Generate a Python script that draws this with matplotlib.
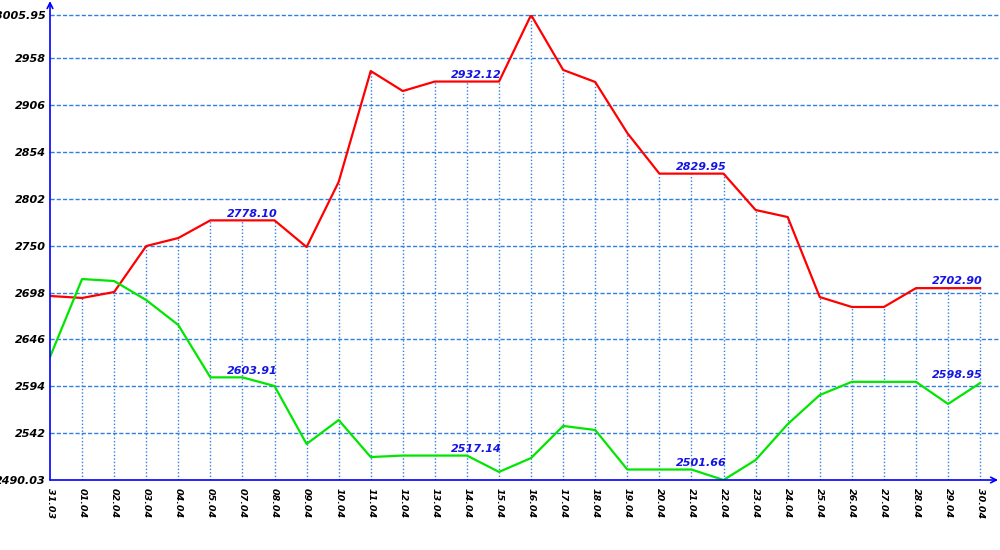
import matplotlib
matplotlib.use("Agg")
import matplotlib.pyplot as plt
import numpy as np

dates = ["31.03", "01.04", "02.04", "03.04", "04.04", "05.04", "07.04", "08.04",
         "09.04", "10.04", "11.04", "12.04", "13.04", "14.04", "15.04", "16.04",
         "17.04", "18.04", "19.04", "20.04", "21.04", "22.04", "23.04", "24.04",
         "25.04", "26.04", "27.04", "28.04", "29.04", "30.04"]

high = [2694.2, 2692.0, 2698.6, 2749.6, 2758.5, 2778.10, 2778.10, 2778.10,
        2748.5, 2820.7, 2943.8, 2921.6, 2932.12, 2932.12, 2932.12, 3005.95,
        2945.0, 2931.6, 2875.0, 2829.95, 2829.95, 2829.95, 2789.6, 2781.8,
        2693.0, 2682.0, 2682.0, 2702.90, 2702.90, 2702.90]

low = [2626.5, 2713.0, 2710.8, 2689.7, 2662.0, 2603.91, 2603.91, 2594.3,
       2530.0, 2556.6, 2515.5, 2517.14, 2517.14, 2517.14, 2499.0, 2514.4,
       2550.0, 2545.5, 2501.66, 2501.66, 2501.66, 2490.03, 2512.2, 2552.0,
       2584.3, 2598.95, 2598.95, 2598.95, 2574.4, 2597.6]

y_ticks = [2490.03, 2542, 2594, 2646, 2698, 2750, 2802, 2854, 2906, 2958, 3005.95]
y_labels = ["2490.03", "2542", "2594", "2646", "2698", "2750", "2802", "2854",
            "2906", "2958", "3005.95"]

# plateau labels: (index, value)
high_notes = [(6, 2778.10), (13, 2932.12), (20, 2829.95), (28, 2702.90)]
low_notes = [(6, 2603.91), (13, 2517.14), (20, 2501.66), (28, 2598.95)]

grid_col = "#2f7fe0"
axis_col = "#0000ff"
txt_col = "#1414e6"

fig = plt.figure(figsize=(10, 5.5), dpi=100)
ax = fig.add_axes([0.05, 70 / 550, 0.95, 465 / 550])

x = np.arange(len(dates))
ymin, ymax = y_ticks[0], y_ticks[-1]

# horizontal dashed grid
ax.hlines(y_ticks[1:], 0, 1, transform=ax.get_yaxis_transform(), colors=grid_col,
          linewidth=1, linestyles=(0, (3, 1.5)), zorder=1, clip_on=False)
# vertical dotted lines up to the high line
ax.vlines(x[1:], ymin, np.array(high)[1:], colors=grid_col, linewidth=1,
          linestyles=(0, (1, 1.5)), zorder=1)

ax.plot(x, high, color="#ff0000", linewidth=1.6, zorder=3)
ax.plot(x, low, color="#00e600", linewidth=1.6, zorder=3)

for i, v in high_notes + low_notes:
    ax.text(i + 0.3, v + 2, f"{v:.2f}", color=txt_col, fontsize=8,
            fontweight="bold", fontstyle="italic", ha="center", va="bottom", zorder=4)

ax.set_xlim(0, 29.62)
ax.set_ylim(ymin, ymax)
ax.set_xticks(x)
ax.set_xticklabels(dates, rotation=270, fontsize=6.8, fontweight="bold",
                   fontstyle="italic", va="top", ha="center")
ax.set_yticks(y_ticks)
ax.set_yticklabels(y_labels, fontsize=8, fontweight="bold", fontstyle="italic")
ax.tick_params(axis="y", length=0, pad=3)
ax.tick_params(axis="x", length=0, pad=6)

for s in ax.spines.values():
    s.set_visible(False)

# axes with arrows
ax.annotate("", xy=(0, 1.03), xycoords="axes fraction", xytext=(0, 0),
            arrowprops=dict(arrowstyle="->", color=axis_col, lw=1.2,
                            shrinkA=0, shrinkB=0), annotation_clip=False)
ax.annotate("", xy=(0.998, 0), xycoords="axes fraction", xytext=(0, 0),
            arrowprops=dict(arrowstyle="->", color=axis_col, lw=1.2,
                            shrinkA=0, shrinkB=0), annotation_clip=False)

fig.savefig("out.png", dpi=100)
